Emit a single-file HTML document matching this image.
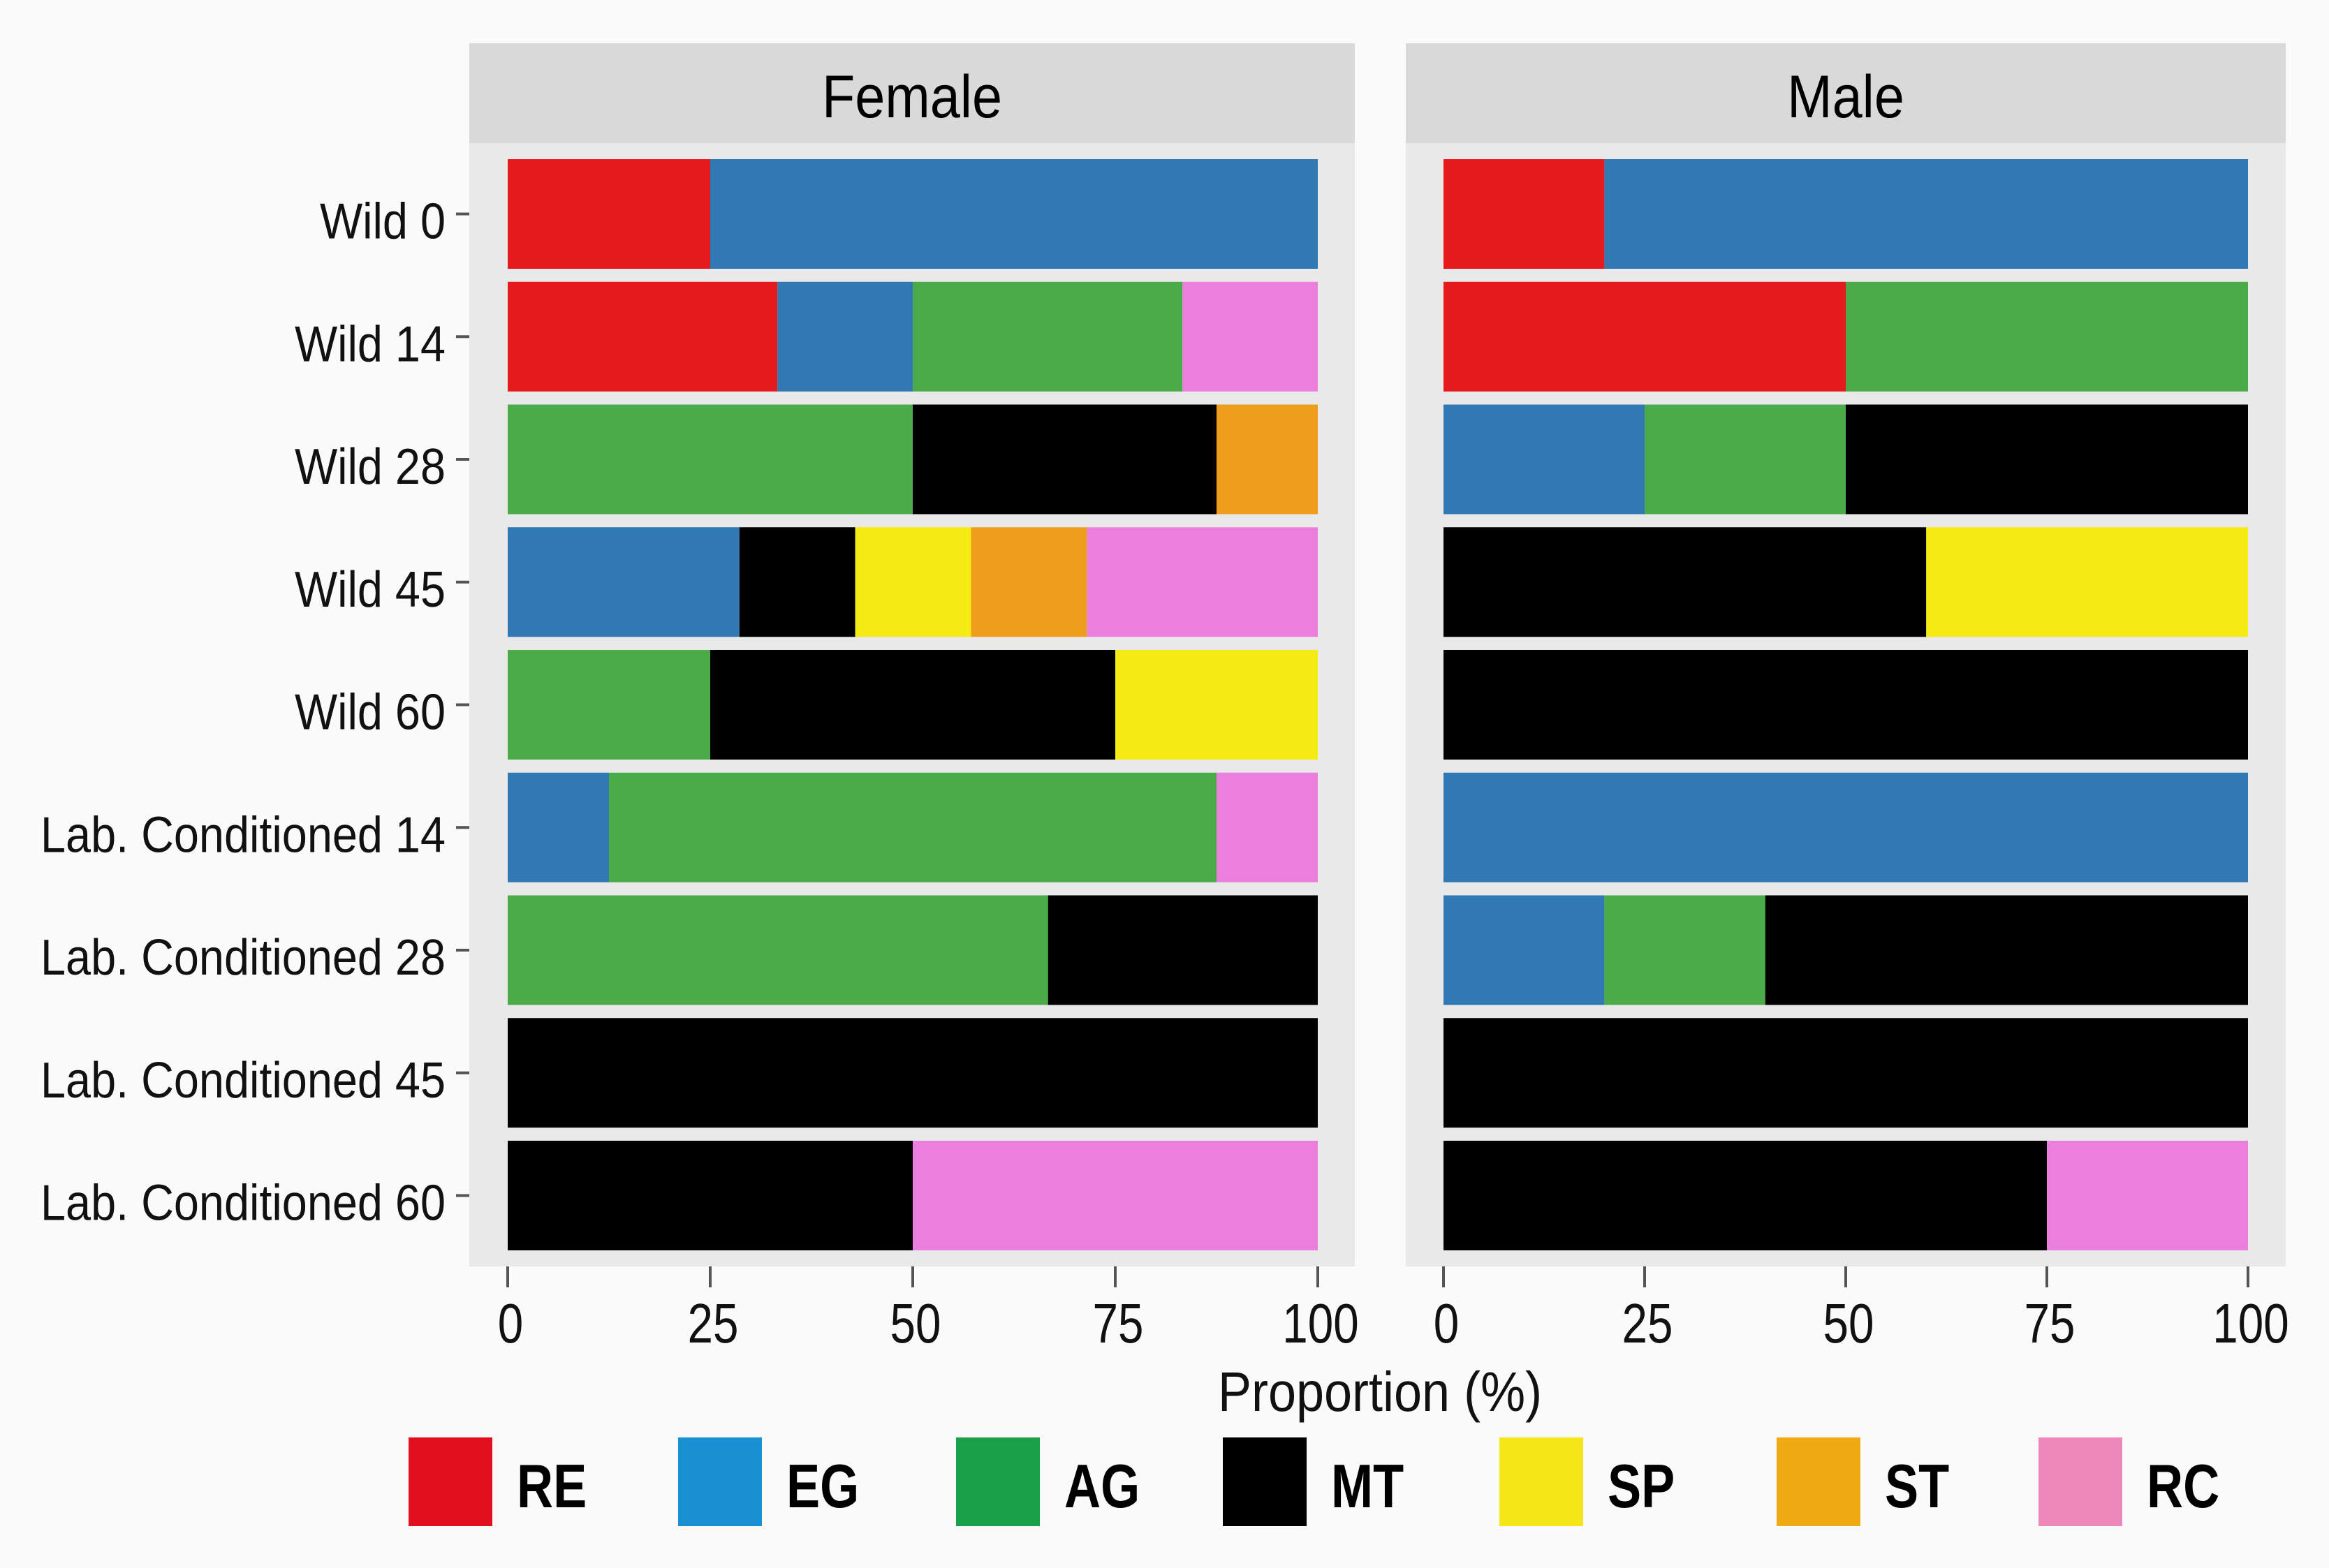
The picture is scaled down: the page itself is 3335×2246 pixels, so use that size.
<!DOCTYPE html>
<html><head><meta charset="utf-8"><style>
html,body{margin:0;padding:0;background:#fafafa}
svg{display:block}
text{font-family:"Liberation Sans",sans-serif}
</style></head><body>
<svg id="chart" width="3335" height="2246" viewBox="0 0 3335 2246" xmlns="http://www.w3.org/2000/svg">
<rect x="0" y="0" width="3335" height="2246" fill="#fafafa"/>
<g id="g"></g>
</svg>
<script>
const categories = ["Wild 0","Wild 14","Wild 28","Wild 45","Wild 60","Lab. Conditioned 14","Lab. Conditioned 28","Lab. Conditioned 45","Lab. Conditioned 60"];
const stages = ["RE","EG","AG","MT","SP","ST","RC"];
const panels = ["Female","Male"];
const ticks = [0,25,50,75,100];
// per-panel, per-stage values (%) in category order
const femaleRE = [25,33.3,0,0,0,0,0,0,0];
const femaleEG = [75,16.7,0,28.6,0,12.5,0,0,0];
const femaleAG = [0,33.3,50,0,25,75,66.7,0,0];
const femaleMT = [0,0,37.5,14.3,50,0,33.3,100,50];
const femaleSP = [0,0,0,14.3,25,0,0,0,0];
const femaleST = [0,0,12.5,14.3,0,0,0,0,0];
const femaleRC = [0,16.7,0,28.5,0,12.5,0,0,50];
const maleRE = [20,50,0,0,0,0,0,0,0];
const maleEG = [80,0,25,0,0,100,20,0,0];
const maleAG = [0,50,25,0,0,0,20,0,0];
const maleMT = [0,0,50,60,100,0,60,100,75];
const maleSP = [0,0,0,40,0,0,0,0,0];
const maleST = [0,0,0,0,0,0,0,0,0];
const maleRC = [0,0,0,0,0,0,0,0,25];

const series = {Female:[femaleRE,femaleEG,femaleAG,femaleMT,femaleSP,femaleST,femaleRC],
                Male:[maleRE,maleEG,maleAG,maleMT,maleSP,maleST,maleRC]};
const barColors = ["#e41a1c","#3179b5","#4bab48","#000000","#f3eb13","#ee9d1c","#ec7fde"];
const legendColors = ["#e0101e","#1a90d0","#1ba04a","#000000","#f5e618","#f0aa14","#ee88bb"];

const NS="http://www.w3.org/2000/svg";
const root=document.getElementById('g');
function el(tag,attrs,parent){const e=document.createElementNS(NS,tag);for(const k in attrs)e.setAttribute(k,attrs[k]);(parent||root).appendChild(e);return e;}

const layout={Female:{pl:672,pr:1940,x0:727,x1:1887},Male:{pl:2013,pr:3273,x0:2067,x1:3219}};
const stripTop=62, stripBot=205, panelBot=1814, barTop0=228, pitch=175.75, barH=157;
function yPos(i){return barTop0+i*pitch;}

panels.forEach(p=>{
  const L=layout[p];
  const xs=v=>L.x0+(L.x1-L.x0)*v/100;
  const pg=el('g',{});
  
  
  const bg=el('rect',{x:L.pl,y:stripBot,width:L.pr-L.pl,height:panelBot-stripBot,fill:"#e9e9e9"},pg);
  
  
  const st=el('rect',{x:L.pl,y:stripTop,width:L.pr-L.pl,height:stripBot-stripTop,fill:"#d9d9d9"},pg);
  
  
  const t=el('text',{transform:`translate(${(L.pl+L.pr)/2},168) scale(0.9,1)`,'font-size':86,'font-weight':500,'text-anchor':'middle',fill:'#000'},pg);
  t.textContent=p;
  
  
  categories.forEach((c,i)=>{
    let acc=0;
    const y=yPos(i);
    stages.forEach((s,k)=>{
      const v=series[p][k][i];
      if(v>0){
        const r=el('rect',{x:xs(acc),y:y,width:xs(acc+v)-xs(acc),height:barH,fill:barColors[k]},pg);
        
        
      }
      acc+=v;
    });
  });
  ticks.forEach(v=>{
    const x=xs(v);
    const tk=el('line',{x1:x,x2:x,y1:panelBot,y2:1844,stroke:'#555','stroke-width':4},pg);
    
    
    const tl=el('text',{transform:`translate(${x+4},1923) scale(0.82,1)`,'font-size':80,'text-anchor':'middle',fill:'#111'},pg);
    tl.textContent=v;
    
    
  });
});

categories.forEach((c,i)=>{
  const cy=yPos(i)+barH/2;
  const tk=el('line',{x1:653,x2:672,y1:cy,y2:cy,stroke:'#555','stroke-width':4});
  
  
  const tl=el('text',{transform:`translate(638,${cy+35}) scale(0.9,1)`,'font-size':72,'text-anchor':'end',fill:'#111'});
  tl.textContent=c;
  
  
});

const xt=el('text',{transform:'translate(1976,2021) scale(0.9,1)','font-size':80,'text-anchor':'middle',fill:'#111'});
xt.textContent='Proportion (%)';



const legX=[585,971,1369,1751,2147,2544,2919];
stages.forEach((s,k)=>{
  const lg=el('g',{});
  
  
  el('rect',{x:legX[k],y:2059,width:120,height:127,fill:legendColors[k]},lg);
  const lt=el('text',{transform:`translate(${legX[k]+155},2159) scale(0.82,1)`,'font-size':88,'font-weight':'bold',fill:'#000'},lg);
  lt.textContent=s;
});
</script>
</body></html>
